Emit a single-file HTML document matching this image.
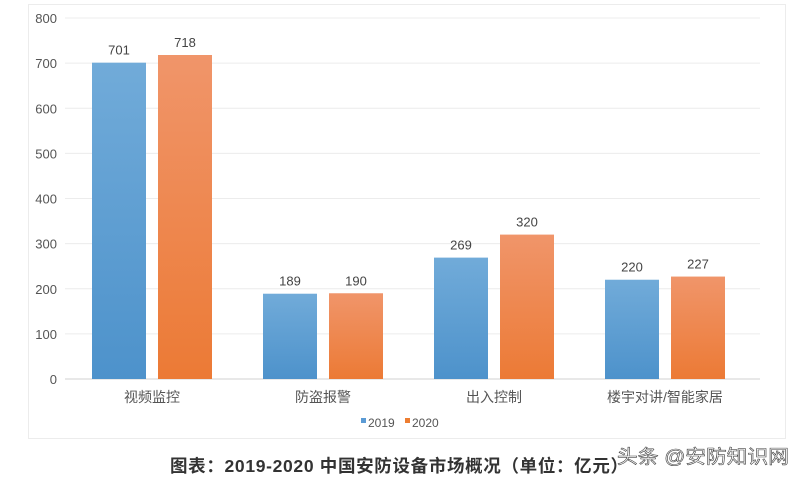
<!DOCTYPE html>
<html><head><meta charset="utf-8"><style>
html,body{margin:0;padding:0;background:#fff;}
body{width:800px;height:480px;overflow:hidden;position:relative;font-family:"Liberation Sans","Noto Sans CJK SC",sans-serif;}
svg text{font-family:"Liberation Sans","Noto Sans CJK SC",sans-serif;}
</style></head><body>
<svg id="chart" width="800" height="480" xmlns="http://www.w3.org/2000/svg">
<defs>
<linearGradient id="gb" x1="0" y1="0" x2="0" y2="1"><stop offset="0" stop-color="#71abd9"/><stop offset="1" stop-color="#4d92cb"/></linearGradient>
<linearGradient id="go" x1="0" y1="0" x2="0" y2="1"><stop offset="0" stop-color="#f0956a"/><stop offset="1" stop-color="#ec7a35"/></linearGradient>
</defs>
<rect x="28.5" y="4.5" width="757" height="434" fill="#fff" stroke="#ececec"/>
<g id="grid"></g><g id="bars"></g><g id="labels"></g>
<g>
<rect x="361" y="418" width="5" height="5" fill="#5b9bd5"/>
<text x="368" y="427" font-size="12" fill="#555">2019</text>
<rect x="405" y="418" width="5" height="5" fill="#ed7d31"/>
<text x="412" y="427" font-size="12" fill="#555">2020</text>
</g>
<text x="170" y="472" font-size="17.5" font-weight="bold" fill="#333" textLength="458" lengthAdjust="spacing">图表：2019-2020 中国安防设备市场概况（单位：亿元）</text>
<text x="617" y="463" font-size="19" fill="#fff" stroke="#444" stroke-width="0.6" textLength="172" lengthAdjust="spacingAndGlyphs">头条 @安防知识网</text>
</svg>
<script>
const categories=["视频监控","防盗报警","出入控制","楼宇对讲/智能家居"];
const values2019=[701,189,269,220];
const values2020=[718,190,320,227];
const yTicks=[0,100,200,300,400,500,600,700,800];
const NS="http://www.w3.org/2000/svg";
const y0=379,yTop=18,yMax=800;
function yScale(v){return y0-(v/yMax)*(y0-yTop);}
const step=171,first=152;
function xCenter(i){return first+i*step;}
const bw=54,gap=12;
function mk(tag,attrs,parent){const e=document.createElementNS(NS,tag);for(const k in attrs)e.setAttribute(k,attrs[k]);parent.appendChild(e);return e;}
const grid=document.getElementById('grid'),bars=document.getElementById('bars'),labels=document.getElementById('labels');
yTicks.forEach(t=>{
 const l=mk('line',{x1:65,x2:760,y1:yScale(t),y2:yScale(t),stroke:t===0?'#d0d0d0':'#ececec','stroke-width':1},grid);
 
 
 const tx=mk('text',{x:57,y:yScale(t)+5,'font-size':13,fill:'#555','text-anchor':'end'},grid);
 tx.textContent=t;
 
 
});
categories.forEach((c,i)=>{
 const cx=xCenter(i);
 [[values2019[i],cx-gap/2-bw,'url(#gb)','2019'],[values2020[i],cx+gap/2,'url(#go)','2020']].forEach(([v,x,f,s])=>{
  const r=mk('rect',{x:x,y:yScale(v),width:bw,height:y0-yScale(v),fill:f},bars);
  
  
  const t=mk('text',{x:x+bw/2,y:yScale(v)-8,'font-size':13,fill:'#444','text-anchor':'middle'},labels);
  t.textContent=v;
  
  
 });
 const cl=mk('text',{x:cx,y:402,'font-size':14,fill:'#555','text-anchor':'middle'},labels);
 cl.textContent=c;
 
 
});
</script>
</body></html>
